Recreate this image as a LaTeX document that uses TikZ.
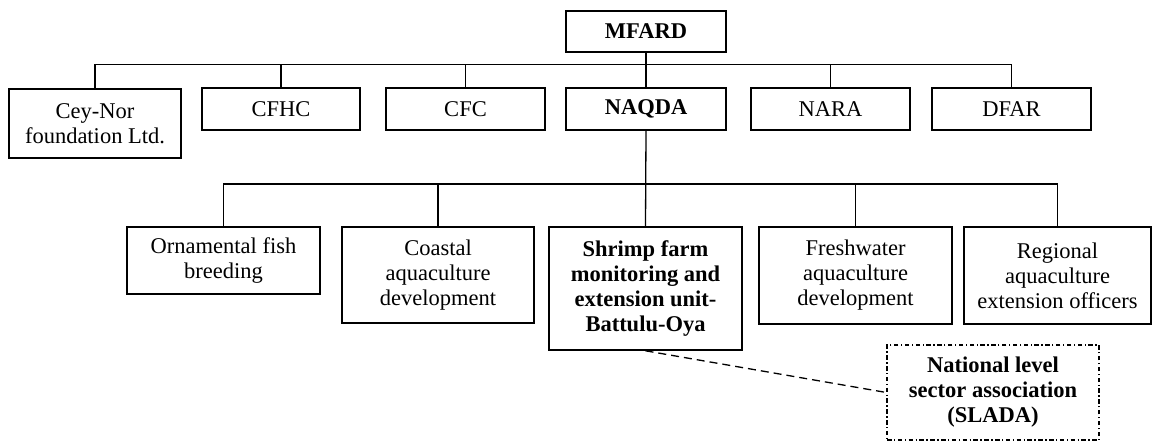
\documentclass[tikz,border=0pt]{standalone}
\usepackage{fontspec}
\setmainfont{Liberation Serif}
\begin{document}
\begin{tikzpicture}[x=1pt,y=-1pt,
  box/.style={draw=black,line width=1.6pt,fill=white,align=center,inner sep=1pt,
    font=\fontsize{22.5}{25}\selectfont},
  bbox/.style={box,font=\fontsize{22.5}{25}\selectfont\bfseries},
  dbox/.style={draw=black,line width=1.2pt,align=center,inner sep=1pt,
    dash pattern=on 4.5pt off 2.5pt on 1.3pt off 2.5pt,
    font=\fontsize{22.5}{25}\selectfont\bfseries},
  conn/.style={draw=black,line width=1.3pt},
  dconn/.style={draw=black,line width=1.3pt,dash pattern=on 8pt off 5pt}]
\useasboundingbox (0,0) rectangle (1153,441);
\coordinate (bus1) at (0,64.5);
\coordinate (bus2) at (0,184);
\node[bbox,minimum width=160pt,minimum height=41pt] (mfard) at (646,31.5) {MFARD};
\node[box,minimum width=172pt,minimum height=69pt] (ceynor) at (95,123.5) {Cey-Nor\\foundation Ltd.};
\node[box,minimum width=158pt,minimum height=42pt] (cfhc) at (281,109) {CFHC};
\node[box,minimum width=159pt,minimum height=42pt] (cfc) at (465.5,109) {CFC};
\node[bbox,minimum width=160pt,minimum height=42pt] (naqda) at (646,109) {NAQDA};
\node[box,minimum width=159pt,minimum height=42pt] (nara) at (830.5,109) {NARA};
\node[box,minimum width=159pt,minimum height=42pt] (dfar) at (1011.5,109) {DFAR};
\node[box,minimum width=193pt,minimum height=67pt] (orn) at (223.5,260.5) {Ornamental fish\\breeding};
\node[box,minimum width=192pt,minimum height=96pt] (coastal) at (438,275) {Coastal\\aquaculture\\development};
\node[bbox,minimum width=193pt,minimum height=123pt] (shrimp) at (645.5,288.5) {Shrimp farm\\monitoring and\\extension unit-\\Battulu-Oya};
\node[box,minimum width=193pt,minimum height=97pt] (fresh) at (855.5,275.5) {Freshwater\\aquaculture\\development};
\node[box,minimum width=187pt,minimum height=97pt] (regional) at (1057.5,275.5) {Regional\\aquaculture\\extension officers};
\node[dbox,minimum width=212pt,minimum height=95pt] (sla) at (993,392.5) {National level\\sector association\\(SLADA)};
% top level bus
\draw[conn] (mfard.south) -- (naqda.north);
\draw[conn] (ceynor.north) |- (bus1 -| dfar.north) -- (dfar.north);
\draw[conn] (cfhc.north) -- (cfhc.north |- bus1);
\draw[conn] (cfc.north) -- (cfc.north |- bus1);
\draw[conn] (nara.north) -- (nara.north |- bus1);
% second level bus
\draw[conn] (naqda.south) -- (shrimp.north);
\draw[conn] (orn.north) |- (bus2 -| regional.north) -- (regional.north);
\draw[conn] (coastal.north) -- (coastal.north |- bus2);
\draw[conn] (fresh.north) -- (fresh.north |- bus2);
% dashed link
\draw[dconn] (shrimp.south) -- (sla.west);
\end{tikzpicture}
\end{document}
